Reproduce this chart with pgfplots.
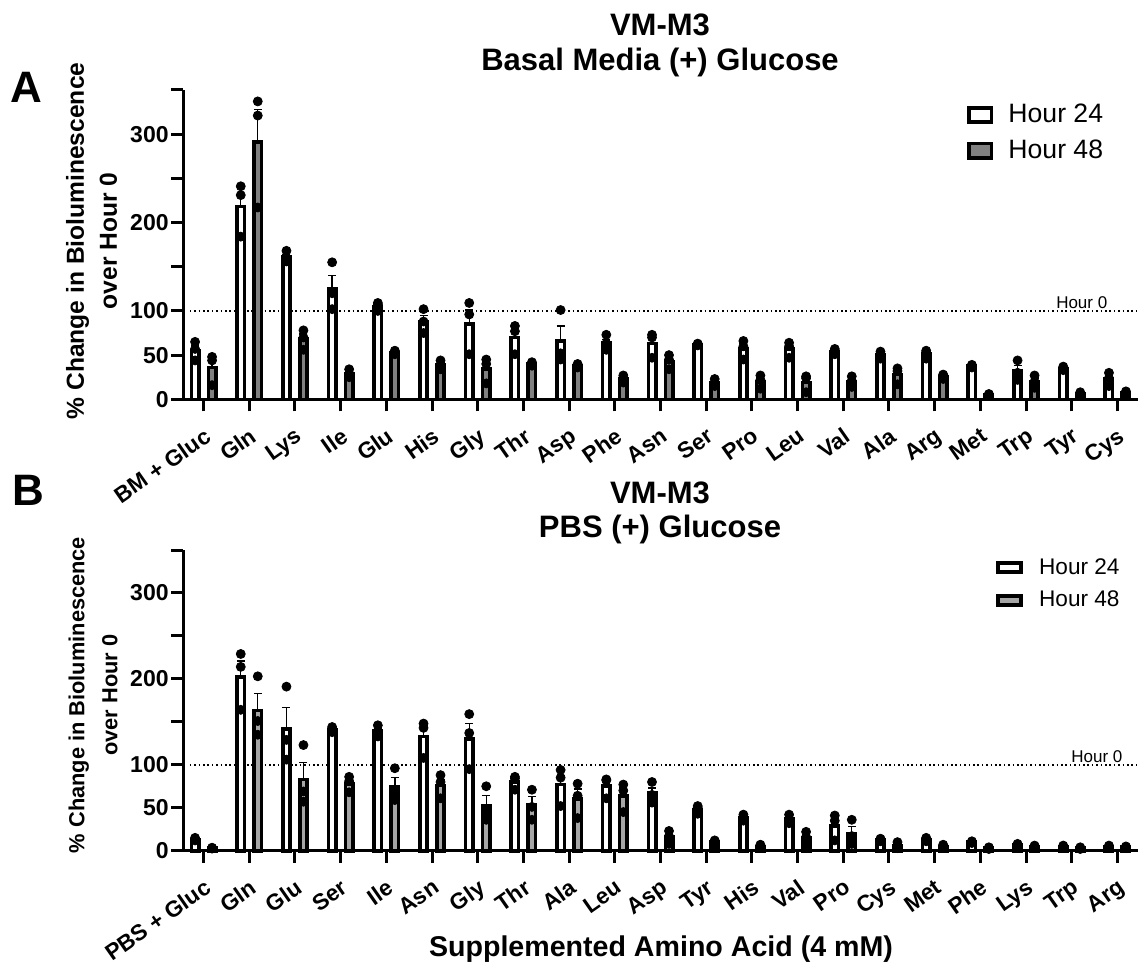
\documentclass[border=0pt]{standalone}
\usepackage{pgfplots}
\pgfplotsset{compat=1.18}
\usepackage{pgfplotstable}
\usepackage{fontspec}
\setmainfont{Liberation Sans}

\definecolor{grayA}{RGB}{128,128,128}
\definecolor{grayB}{RGB}{166,166,166}

\pgfplotstableread{
x m24 e24 a1 a2 a3 m48 e48 b1 b2 b3
0 55 6 65 57 44 36 10 48 44 16
1 218 14 241 231 184 291 37 337 321 217
2 161 3 168 160 156 68 6 78 70 56
3 125 15 155 120 102 29 2 34 29 25
4 105 2 109 107 100 53 1 55 53 51
5 88 7 102 88 75 39 3 44 39 34
6 85 16 109 96 51 34 8 45 40 18
7 70 6 83 77 51 40 1 42 40 38
8 66 17 101 52 45 38 1 40 38 36
9 64 4 73 63 56 23 2 27 24 19
10 63 8 73 70 47 43 4 50 45 34
11 62 1 63 62 61 19 2 23 19 15
12 57 6 66 60 45 20 4 27 22 12
13 57 5 64 60 47 19 5 26 24 8
14 54 2 57 55 51 20 3 26 21 14
15 50 2 54 51 46 28 5 35 32 17
16 51 2 55 53 46 26 1 28 27 23
17 38 1 39 38 36 5 0.5 6 5 4
18 32 6 44 30 22 20 4 27 20 13
19 35 1 37 35 33 6 1 8 6 5
20 23 4 30 24 15 7 1 9 7 5
}\dataA

\pgfplotstableread{
x m24 e24 a1 a2 a3 m48 e48 b1 b2 b3
0 13 1 15 13 12 3 0.3 3.5 3 2.5
1 202 19 229 214 164 163 20 203 151 135
2 142 25 191 129 106 83 20 123 69 57
3 141 1 144 142 138 78 4 86 81 68
4 139 3 146 139 133 74 11 96 68 59
5 133 12 148 143 108 76 7 88 80 61
6 130 18 159 137 95 52 12 75 45 36
7 80 3 86 84 71 53 10 71 51 36
8 77 10 94 85 52 60 12 78 64 38
9 75 5 83 82 61 64 9 77 70 45
10 67 6 80 65 56 16 4 23 17 8
11 48 2 52 50 43 10 2 12 11 6
12 38 2 42 38 35 5 1 7 5 4
13 37 3 42 37 32 15 4 22 16 7
14 29 8 41 35 12 20 8 36 17 8
15 13 1 14 13 11 6 2 10 6 3
16 13 1 15 13 11 5 1 7 5 4
17 10 1 11 10 9 3 0.5 4 3 2
18 7 1 8 7 6 5 0.5 6 5 4
19 5 0.5 6 5 4 3 0.5 4 3 2
20 5 0.5 6 5 4 4 0.5 5 4 3
}\dataB

\pgfplotsset{
  panel/.style={
    scale only axis, width=477.5pt,
    xmin=-0.45, xmax=20.45, ymin=0, ymax=350,
    axis lines*=left,
    axis line style={line width=1.5pt},
    every tick/.style={black, line width=1.5pt},
    major tick length=6pt, tick align=outside,
    xtick={0,...,20}, ytick={0,50,...,350},
    yticklabels={0,50,100,,200,,300,},
    xticklabel style={rotate=35, anchor=north east, inner sep=0pt, xshift=-4.5pt, yshift=-6pt,
      font=\bfseries\fontsize{11.3}{12}\selectfont},
    yticklabel style={font=\bfseries\fontsize{11.5}{12}\selectfont, inner sep=1.5pt, xshift=0.5pt},
    clip=false,
  },
  bar24/.style={ybar, bar width=3.7pt, bar shift=0pt, draw=black, fill=white, line width=1.8pt,
    legend image code/.code={\draw[##1, line width=1.8pt] (0pt,-3.6pt) rectangle (11.2pt,3.6pt);},
    error bars/y dir=plus, error bars/y explicit,
    error bars/error bar style={line width=0.7pt, black, solid},
    error bars/error mark options={rotate=90, mark size=2pt, line width=0.7pt, black}},
  legB/.style={legend image code/.code={\draw[##1, line width=2pt] (0pt,-2.4pt) rectangle (11.5pt,2.4pt);}},
  dots/.style={only marks, mark=*, mark size=2.25pt, black, forget plot},
  refline/.style={black, line width=0.8pt, dash pattern=on 0.8pt off 1.4pt, forget plot},
}

\begin{document}
\begin{tikzpicture}
\useasboundingbox (0pt,0pt) rectangle (569pt,-482pt);

% ---------- Panel A ----------
\begin{axis}[panel, height=154.7pt, at={(91.5pt,-199.65pt)}, anchor=south west,
  xticklabels={BM + Gluc,Gln,Lys,Ile,Glu,His,Gly,Thr,Asp,Phe,Asn,Ser,Pro,Leu,Val,Ala,Arg,Met,Trp,Tyr,Cys},
  legend style={at={(rel axis cs:0.821,0.955)}, anchor=north west, draw=none, fill=none,
    inner sep=0pt, font=\fontsize{13.3}{13.3}\selectfont, row sep=7pt,
    nodes={inner sep=0pt},
    /tikz/every odd column/.append style={column sep=7.5pt}},
  legend cell align=left]
\addplot[refline] coordinates {(-0.3,100) (20.45,100)};
\addplot[bar24] table[x expr=\thisrow{x}-0.186, y=m24, y error=e24] {\dataA};
\addplot[bar24, fill=grayA] table[x expr=\thisrow{x}+0.186, y=m48, y error=e48] {\dataA};
\addplot[dots] table[x expr=\thisrow{x}-0.186, y=a1] {\dataA};
\addplot[dots] table[x expr=\thisrow{x}-0.186, y=a2] {\dataA};
\addplot[dots] table[x expr=\thisrow{x}-0.186, y=a3] {\dataA};
\addplot[dots] table[x expr=\thisrow{x}+0.186, y=b1] {\dataA};
\addplot[dots] table[x expr=\thisrow{x}+0.186, y=b2] {\dataA};
\addplot[dots] table[x expr=\thisrow{x}+0.186, y=b3] {\dataA};
\legend{Hour 24, Hour 48}
\node[anchor=south east, inner sep=1pt, font=\fontsize{8.5}{8.5}\selectfont] at (axis cs:19.83,100) {Hour 0};
\end{axis}

% ---------- Panel B ----------
\begin{axis}[panel, height=150.35pt, at={(91.5pt,-425.35pt)}, anchor=south west,
  xticklabels={PBS + Gluc,Gln,Glu,Ser,Ile,Asn,Gly,Thr,Ala,Leu,Asp,Tyr,His,Val,Pro,Cys,Met,Phe,Lys,Trp,Arg},
  legend style={at={(rel axis cs:0.851,0.974)}, anchor=north west, draw=none, fill=none,
    inner sep=0pt, font=\fontsize{11.3}{11.3}\selectfont, row sep=7pt,
    nodes={inner sep=0pt},
    /tikz/every odd column/.append style={column sep=8pt}},
  legend cell align=left]
\addplot[refline] coordinates {(-0.3,100) (20.45,100)};
\addplot[bar24, legB] table[x expr=\thisrow{x}-0.186, y=m24, y error=e24] {\dataB};
\addplot[bar24, legB, fill=grayB] table[x expr=\thisrow{x}+0.186, y=m48, y error=e48] {\dataB};
\addplot[dots] table[x expr=\thisrow{x}-0.186, y=a1] {\dataB};
\addplot[dots] table[x expr=\thisrow{x}-0.186, y=a2] {\dataB};
\addplot[dots] table[x expr=\thisrow{x}-0.186, y=a3] {\dataB};
\addplot[dots] table[x expr=\thisrow{x}+0.186, y=b1] {\dataB};
\addplot[dots] table[x expr=\thisrow{x}+0.186, y=b2] {\dataB};
\addplot[dots] table[x expr=\thisrow{x}+0.186, y=b3] {\dataB};
\legend{Hour 24, Hour 48}
\node[anchor=south east, inner sep=1pt, font=\fontsize{8.5}{8.5}\selectfont] at (axis cs:20.16,100) {Hour 0};
\end{axis}

% ---------- Titles and labels ----------
\node[anchor=base, inner sep=0pt, font=\bfseries\fontsize{15.5}{15.5}\selectfont] at (330pt,-17.5pt) {VM-M3};
\node[anchor=base, inner sep=0pt, font=\bfseries\fontsize{15.5}{15.5}\selectfont] at (330pt,-35pt) {Basal Media (+) Glucose};
\node[anchor=base, inner sep=0pt, font=\bfseries\fontsize{15.5}{15.5}\selectfont] at (330pt,-251.5pt) {VM-M3};
\node[anchor=base, inner sep=0pt, font=\bfseries\fontsize{15.5}{15.5}\selectfont] at (330pt,-268.5pt) {PBS (+) Glucose};

\node[anchor=base west, inner sep=0pt, font=\bfseries\fontsize{22}{22}\selectfont] at (5pt,-51pt) {A};
\node[anchor=base west, inner sep=0pt, font=\bfseries\fontsize{22}{22}\selectfont] at (6pt,-252.5pt) {B};

\node[rotate=90, align=center, inner sep=0pt, font=\bfseries\fontsize{12.3}{16.5}\selectfont] at (45.75pt,-120.5pt) {\% Change in Bioluminescence\\over Hour 0};
\node[rotate=90, align=center, inner sep=0pt, font=\bfseries\fontsize{10.9}{16.5}\selectfont] at (46.5pt,-347.5pt) {\% Change in Bioluminescence\\over Hour 0};

\node[anchor=base, inner sep=0pt, font=\bfseries\fontsize{14.3}{14.3}\selectfont] at (330.5pt,-478pt) {Supplemented Amino Acid (4 mM)};
\end{tikzpicture}
\end{document}
